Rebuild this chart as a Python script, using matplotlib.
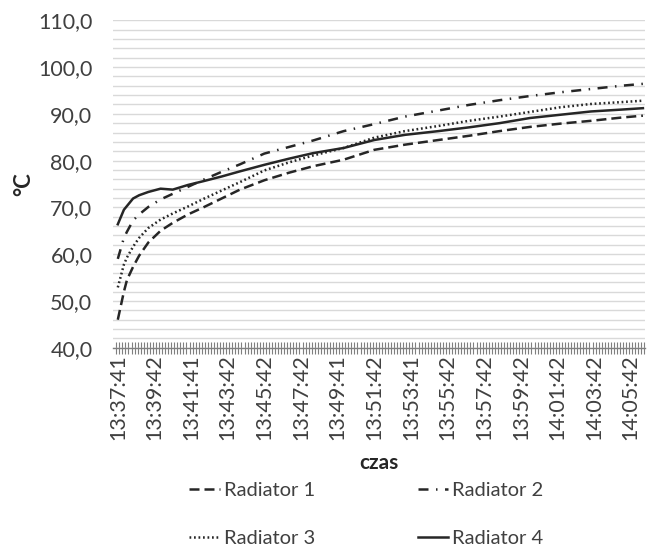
import numpy as np
import matplotlib
matplotlib.use("Agg")
import matplotlib.pyplot as plt

plt.rcParams['font.family'] = ['Lato', 'DejaVu Sans']

# one reading every ~10 s; values at these reading numbers
n_readings = 173
sample_idx = [0, 2, 3, 5, 7, 10, 14, 18, 23, 28, 34, 40, 48, 56, 64, 74, 84,
              94, 105, 115, 125, 135, 145, 155, 165, 172]

radiator1 = [46.0, 52.0, 54.5, 57.3, 59.7, 62.5, 65.0, 66.7, 68.5, 70.0, 71.9,
             73.8, 75.8, 77.4, 78.8, 80.2, 82.3, 83.4, 84.4, 85.3, 86.3, 87.2,
             87.9, 88.5, 89.2, 89.6]
radiator2 = [59.0, 63.5, 64.8, 67.2, 68.5, 70.1, 71.7, 72.9, 74.4, 75.9, 77.6,
             79.2, 81.5, 82.9, 84.3, 86.3, 87.8, 89.4, 90.7, 91.9, 92.9, 93.8,
             94.6, 95.3, 96.0, 96.4]
radiator3 = [52.9, 57.8, 59.3, 61.6, 63.5, 65.6, 67.4, 68.7, 70.2, 71.8, 73.6,
             75.4, 77.9, 79.6, 81.1, 82.7, 84.9, 86.3, 87.4, 88.5, 89.4, 90.4,
             91.4, 92.1, 92.5, 92.8]
radiator4 = [66.4, 69.5, 70.3, 71.9, 72.6, 73.3, 74.0, 73.8, 74.8, 75.6, 76.6,
             77.7, 79.1, 80.4, 81.6, 82.7, 84.4, 85.5, 86.3, 87.1, 88.0, 89.1,
             89.8, 90.5, 90.9, 91.2]

label_idx = list(range(0, 169, 12))
time_labels = ['13:37:41', '13:39:42', '13:41:41', '13:43:42', '13:45:42',
               '13:47:42', '13:49:41', '13:51:42', '13:53:41', '13:55:42',
               '13:57:42', '13:59:42', '14:01:42', '14:03:42', '14:05:42']

ink = '#262626'
fig = plt.figure(figsize=(6.47, 5.46), dpi=100)
ax = fig.add_axes([0.175, 0.363, 0.822, 0.600])

lw = 1.8
l1, = ax.plot(sample_idx, radiator1, color=ink, lw=lw, dashes=(4, 2), label='Radiator 1')
l2, = ax.plot(sample_idx, radiator2, color=ink, lw=lw, dashes=(4, 3, 0.6, 3), label='Radiator 2')
l3, = ax.plot(sample_idx, radiator3, color=ink, lw=lw, dashes=(0.7, 1.1), label='Radiator 3')
l4, = ax.plot(sample_idx, radiator4, color=ink, lw=lw, label='Radiator 4')

ax.set_ylim(40, 110)
ax.set_xlim(-1.5, n_readings - 0.3)
ax.set_yticks(np.arange(40, 111, 10))
ax.set_yticklabels([f'{v:.1f}'.replace('.', ',') for v in range(40, 111, 10)])
ax.set_yticks(np.arange(40, 111, 2), minor=True)
ax.grid(True, which='both', axis='y', color='#d9d9d9', lw=1.0)
ax.set_axisbelow(True)

ax.set_xticks(label_idx)
ax.set_xticklabels(time_labels, rotation=90)
ax.set_xticks(np.arange(-0.5, n_readings, 1), minor=True)
ax.tick_params(axis='x', which='major', length=0, pad=5, labelsize=15.5, labelcolor='#404040')
ax.tick_params(axis='x', which='minor', direction='inout', length=9, width=0.8, color='#7f7f7f')
ax.tick_params(axis='y', which='both', length=0, pad=15, labelsize=15.5, labelcolor='#404040')

for s in ['left', 'right', 'top']:
    ax.spines[s].set_visible(False)
ax.spines['bottom'].set_color('#7f7f7f')
ax.spines['bottom'].set_linewidth(1.0)

ax.set_xlabel('czas', fontsize=15, fontweight='bold', color='#262626', labelpad=9)
ax.set_ylabel('°C', fontsize=16, fontweight='bold', color='#262626', labelpad=3)

fig.legend([l1, l3, l2, l4], ['Radiator 1', 'Radiator 3', 'Radiator 2', 'Radiator 4'],
           ncol=2, loc='lower center', bbox_to_anchor=(0.566, -0.035), frameon=False,
           fontsize=14.5, handlelength=1.5, handletextpad=0.2, columnspacing=5.1,
           labelspacing=1.55, labelcolor='#404040')

fig.savefig('out.png', dpi=100)
